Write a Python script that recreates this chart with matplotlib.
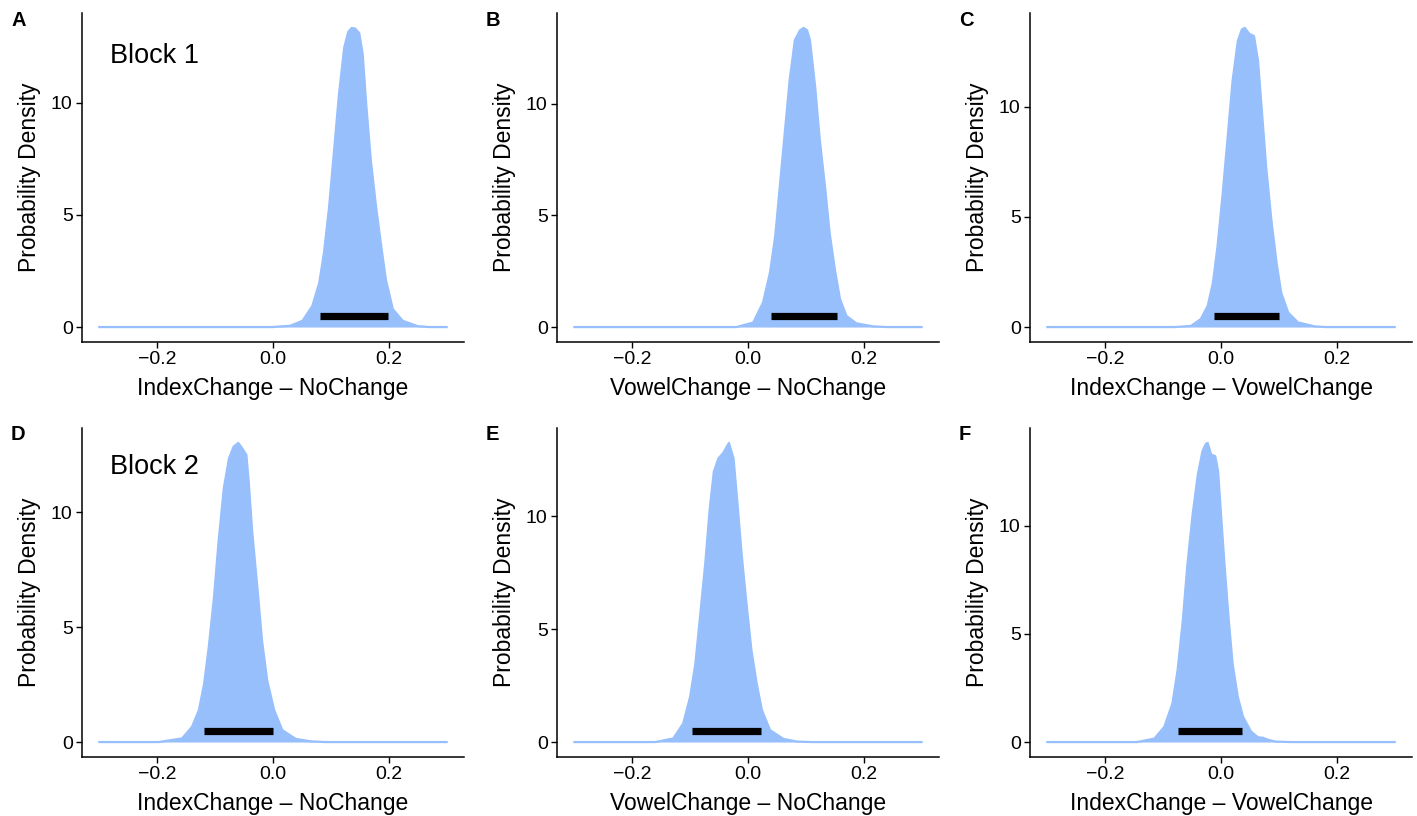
import matplotlib
matplotlib.use("Agg")
import matplotlib.pyplot as plt

plt.rcParams['font.family'] = ['Liberation Sans', 'DejaVu Sans']

# ---- data ----
panel_letters = ["A", "B", "C", "D", "E", "F"]
x_labels = ["IndexChange – NoChange", "VowelChange – NoChange", "IndexChange – VowelChange",
            "IndexChange – NoChange", "VowelChange – NoChange", "IndexChange – VowelChange"]
block_labels = {0: "Block 1", 3: "Block 2"}

xA = [-0.30, 0.00, 0.030, 0.051, 0.068, 0.080, 0.088, 0.097, 0.106, 0.114, 0.123, 0.130, 0.136,
      0.142, 0.149, 0.155, 0.161, 0.169, 0.178, 0.187, 0.195, 0.207, 0.224, 0.250, 0.27, 0.30]
dA = [0, 0, 0.06, 0.28, 0.94, 1.98, 3.3, 5.37, 8.02, 10.38, 12.45, 13.15, 13.33,
      13.3, 13.1, 12.15, 9.94, 7.43, 5.37, 3.6, 2.12, 0.8, 0.28, 0.04, 0, 0]

xB = [-0.30, -0.02, 0.009, 0.026, 0.038, 0.047, 0.055, 0.064, 0.072, 0.081, 0.090, 0.096, 0.102,
      0.107, 0.116, 0.124, 0.133, 0.141, 0.150, 0.159, 0.170, 0.187, 0.216, 0.24, 0.30]
dB = [0, 0, 0.2, 1.1, 2.44, 4.07, 6.3, 8.84, 11.07, 12.86, 13.3, 13.4, 13.3,
      12.86, 10.77, 8.39, 6.3, 4.22, 2.59, 1.25, 0.5, 0.17, 0.03, 0, 0]

xC = [-0.30, -0.08, -0.052, -0.035, -0.023, -0.014, -0.006, 0.003, 0.012, 0.020, 0.029, 0.036,
      0.041, 0.049, 0.057, 0.064, 0.071, 0.078, 0.087, 0.096, 0.104, 0.116, 0.133, 0.162, 0.18, 0.30]
dC = [0, 0, 0.05, 0.36, 0.96, 2.0, 3.66, 6.07, 8.77, 11.17, 12.97, 13.5,
      13.57, 13.3, 13.2, 12.07, 9.67, 7.27, 4.86, 2.91, 1.56, 0.66, 0.21, 0.03, 0, 0]

xD = [-0.30, -0.197, -0.157, -0.140, -0.128, -0.119, -0.111, -0.102, -0.094, -0.085, -0.076,
      -0.068, -0.060, -0.053, -0.046, -0.042, -0.036, -0.027, -0.019, -0.010, 0.002, 0.016,
      0.039, 0.065, 0.09, 0.30]
dD = [0, 0, 0.16, 0.66, 1.39, 2.54, 4.13, 6.29, 8.74, 11.05, 12.35,
      12.86, 13.02, 12.78, 12.5, 11.34, 9.18, 6.72, 4.42, 2.68, 1.39, 0.52,
      0.14, 0.03, 0, 0]

xE = [-0.30, -0.16, -0.129, -0.112, -0.100, -0.091, -0.083, -0.074, -0.066, -0.059, -0.051,
      -0.043, -0.033, -0.025, -0.019, -0.011, -0.002, 0.006, 0.015, 0.024, 0.038, 0.061, 0.085,
      0.11, 0.30]
dE = [0, 0, 0.16, 0.82, 2.0, 3.46, 5.52, 7.87, 10.37, 11.98, 12.57,
      12.8, 13.25, 12.57, 10.81, 8.32, 5.97, 4.05, 2.59, 1.42, 0.53, 0.14, 0.02, 0, 0]

xF = [-0.30, -0.145, -0.115, -0.098, -0.084, -0.075, -0.066, -0.058, -0.049, -0.040, -0.032,
      -0.026, -0.023, -0.017, -0.010, -0.005, 0.000, 0.006, 0.013, 0.020, 0.029, 0.038, 0.052,
      0.064, 0.072, 0.082, 0.095, 0.12, 0.30]
dF = [0, 0, 0.16, 0.7, 1.78, 3.32, 5.62, 8.23, 10.54, 12.38, 13.46,
      13.8, 13.84, 13.3, 13.23, 12.53, 10.54, 8.23, 5.77, 3.63, 2.09, 1.17, 0.48,
      0.22, 0.2, 0.1, 0.02, 0, 0]

hdi_low = [0.081, 0.039, -0.012, -0.119, -0.097, -0.075]
hdi_high = [0.198, 0.153, 0.101, 0.000, 0.022, 0.036]
hdi_y = 0.5

xs = [xA, xB, xC, xD, xE, xF]
ds = [dA, dB, dC, dD, dE, dF]

x_ticks = [-0.2, 0.0, 0.2]
x_ticklabels = ["−0.2", "0.0", "0.2"]
y_ticks = [0, 5, 10]
y_ticklabels = ["0", "5", "10"]

fill_color = "#97BFFC"

# ---- layout ----
W, H = 1417, 816
fig = plt.figure(figsize=(W / 100, H / 100), dpi=100)

lefts = [82, 557, 1030]
tops = [13, 428]
aw, ah = 382, 329

for i in range(6):
    r, c = divmod(i, 3)
    l = lefts[c]
    t = tops[r]
    ax = fig.add_axes([l / W, 1 - (t + ah) / H, aw / W, ah / H])
    ax.fill_between(xs[i], ds[i], 0, color=fill_color, linewidth=0)
    ax.plot(xs[i], ds[i], color=fill_color, linewidth=1.6, solid_joinstyle="round")
    ax.plot([hdi_low[i], hdi_high[i]], [hdi_y, hdi_y], color="black",
            linewidth=5.2, solid_capstyle="butt")
    ax.margins(x=0.05, y=0.05)
    for s in ["top", "right"]:
        ax.spines[s].set_visible(False)
    for s in ["left", "bottom"]:
        ax.spines[s].set_linewidth(1.1)
        ax.spines[s].set_color("black")
    ax.set_xticks(x_ticks)
    ax.set_xticklabels(x_ticklabels)
    ax.set_yticks(y_ticks)
    ax.set_yticklabels(y_ticklabels)
    ax.tick_params(axis="both", labelsize=14, length=4.2, width=1.0, color="black",
                   labelcolor="black", pad=2.5)
    ax.set_xlabel(x_labels[i], fontsize=16.5, labelpad=6)
    ax.set_ylabel("Probability Density", fontsize=16.5, labelpad=7)
    if i in block_labels:
        ax.text(0.073, 0.87 if r == 0 else 0.88, block_labels[i], transform=ax.transAxes,
                fontsize=19.5, ha="left", va="center")
    fig.text((l - 71) / W, 1 - (t + 7) / H, panel_letters[i], fontsize=14.5,
             fontweight="bold", ha="left", va="center")

fig.savefig("out.png", dpi=100)
